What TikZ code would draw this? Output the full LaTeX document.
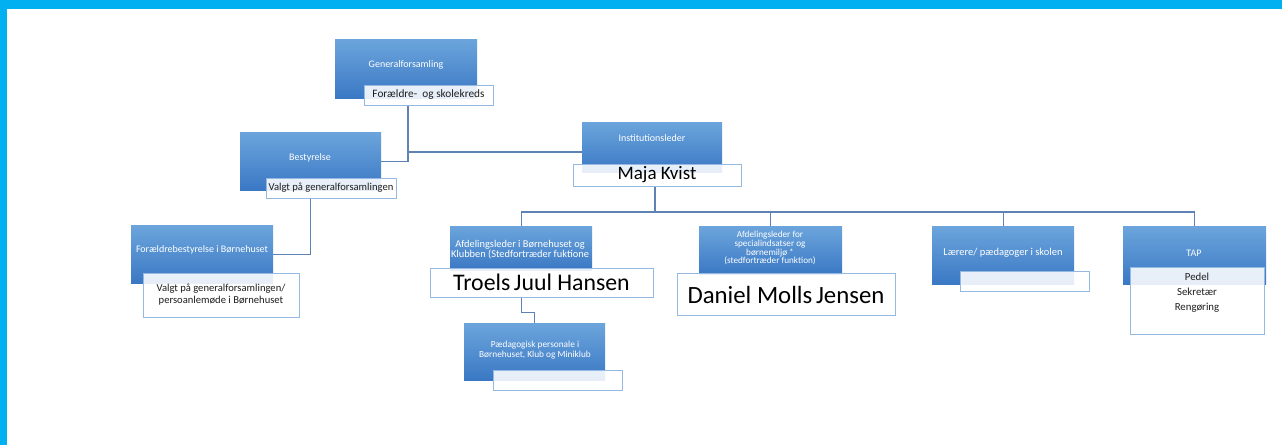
\documentclass[tikz,border=0pt]{standalone}
\usepackage{fontspec}
\setmainfont{Carlito}
\usetikzlibrary{calc}
\definecolor{frame}{RGB}{0,176,240}
\definecolor{btop}{RGB}{108,165,220}
\definecolor{bbot}{RGB}{58,120,196}
\definecolor{subedge}{RGB}{150,185,225}
\definecolor{conn}{RGB}{95,130,180}
\definecolor{txt}{RGB}{30,30,30}
\begin{document}
\begin{tikzpicture}[x=1pt,y=-1pt,
  bluebox/.style={draw=none,top color=btop,bottom color=bbot,inner sep=0pt,anchor=north west},
  subbox/.style={draw=subedge,line width=0.9pt,fill=white,fill opacity=0.88,text opacity=1,inner sep=0pt,anchor=north west,text=txt},
  btext/.style={text=white,font=\fontsize{10}{10}\selectfont,align=center,inner sep=0pt},
  stext/.style={text=txt,font=\fontsize{10.6}{12}\selectfont,align=center,inner sep=0pt},
  ntext/.style={text=black,align=center,inner sep=0pt},
  conline/.style={draw=conn,line width=1.1pt}]
\useasboundingbox (0,0) rectangle (1282,445);
\fill[frame] (0,0) rectangle (1282,445);
\fill[white] (7,9) rectangle (1282,445);

% blue boxes
\node[bluebox,minimum width=142,minimum height=59] (gf) at (335,39) {};
\node[bluebox,minimum width=141,minimum height=58] (best) at (240,132) {};
\node[bluebox,minimum width=140,minimum height=50] (inst) at (582,122) {};
\node[bluebox,minimum width=142,minimum height=58] (fb) at (131,225) {};
\node[bluebox,minimum width=142,minimum height=44] (afd1) at (450,226) {};
\node[bluebox,minimum width=143,minimum height=48] (afd2) at (699,226) {};
\node[bluebox,minimum width=142,minimum height=58] (laer) at (932,226) {};
\node[bluebox,minimum width=143,minimum height=58] (tap) at (1123,226) {};
\node[bluebox,minimum width=141,minimum height=57] (paed) at (464,323) {};

% texts in blue boxes
\node[btext] (gft) at (406,65) {Generalforsamling};
\node[btext] (bestt) at (310,158) {Bestyrelse};
\node[btext] (instt) at (652,138) {Institutionsleder};
\node[btext] (fbt) at (202,250) {Forældrebestyrelse i Børnehuset};
\node[btext,font=\fontsize{10.4}{10}\selectfont] (afd1t) at (520,250) {Afdelingsleder i Børnehuset og\\Klubben (Stedfortræder fuktione};
\node[btext,font=\fontsize{9.2}{8.9}\selectfont] (afd2t) at (770,248) {Afdelingsleder for\\specialindsatser og\\børnemiljø *\\(stedfortræder funktion)};
\node[btext,font=\fontsize{10.5}{10}\selectfont] (laert) at (1003,253) {Lærere/ pædagoger i skolen};
\node[btext] (tapt) at (1194,253) {TAP};
\node[btext,font=\fontsize{9.3}{10}\selectfont] (paedt) at (535,350) {Pædagogisk personale i\\Børnehuset, Klub og Miniklub};

% white sub boxes
\node[subbox,minimum width=129,minimum height=20] (gfs) at (364,85) {};
\node[stext,font=\fontsize{11.3}{12}\selectfont] (gfst) at (428.5,95) {Forældre-\ \ og skolekreds};
\node[subbox,minimum width=130,minimum height=20] (bests) at (266,178) {};
\node[stext] (bestst) at (331,188) {Valgt på generalforsamlingen};
\node[subbox,minimum width=168,minimum height=22] (maja) at (573,164) {};
\node[ntext,font=\fontsize{19}{20}\selectfont] (majat) at (657,175) {Maja Kvist};
\node[subbox,minimum width=156,minimum height=44] (fbs) at (143,273) {};
\node[stext] (fbst) at (221,295) {Valgt på generalforsamlingen/\\persoanlemøde i Børnehuset};
\node[subbox,minimum width=223,minimum height=29] (troels) at (430,268) {};
\node[ntext,font=\fontsize{23.8}{24}\selectfont] (troelst) at (541.5,282.5) {Troels\hspace{0.15em}Juul Hansen};
\node[subbox,minimum width=218,minimum height=42] (daniel) at (677,273) {};
\node[ntext,font=\fontsize{24.8}{25}\selectfont] (danielt) at (786,294.5) {Daniel Molls\hspace{0.15em}Jensen};
\node[subbox,minimum width=129,minimum height=20] (laers) at (960,271) {};
\node[subbox,minimum width=134,minimum height=67] (taps) at (1130,267) {};
\node[stext,font=\fontsize{10.8}{15}\selectfont] (tapst) at (1197,293) {Pedel\\Sekretær\\Rengøring};
\node[subbox,minimum width=129,minimum height=20] (paeds) at (493,370) {};

% connectors
\coordinate (j1) at (408,152);
\coordinate (bus) at (655,212);
\draw[conline] (gfs.south -| j1) -- (j1) -- (j1 -| inst.west);
\draw[conline] (j1) |- (best.east);
\draw[conline] (bests.south -| best.south) |- (fb.east);
\draw[conline] (maja.south -| bus) -- (bus);
\draw[conline] (afd1.north) |- (bus -| tap.north) -- (tap.north);
\draw[conline] (afd2.north) -- (afd2.north |- bus);
\draw[conline] (laer.north) -- (laer.north |- bus);
\draw[conline] (troels.south -| afd1.north) -- ++(0,15) -| (paed.north);
\end{tikzpicture}
\end{document}
